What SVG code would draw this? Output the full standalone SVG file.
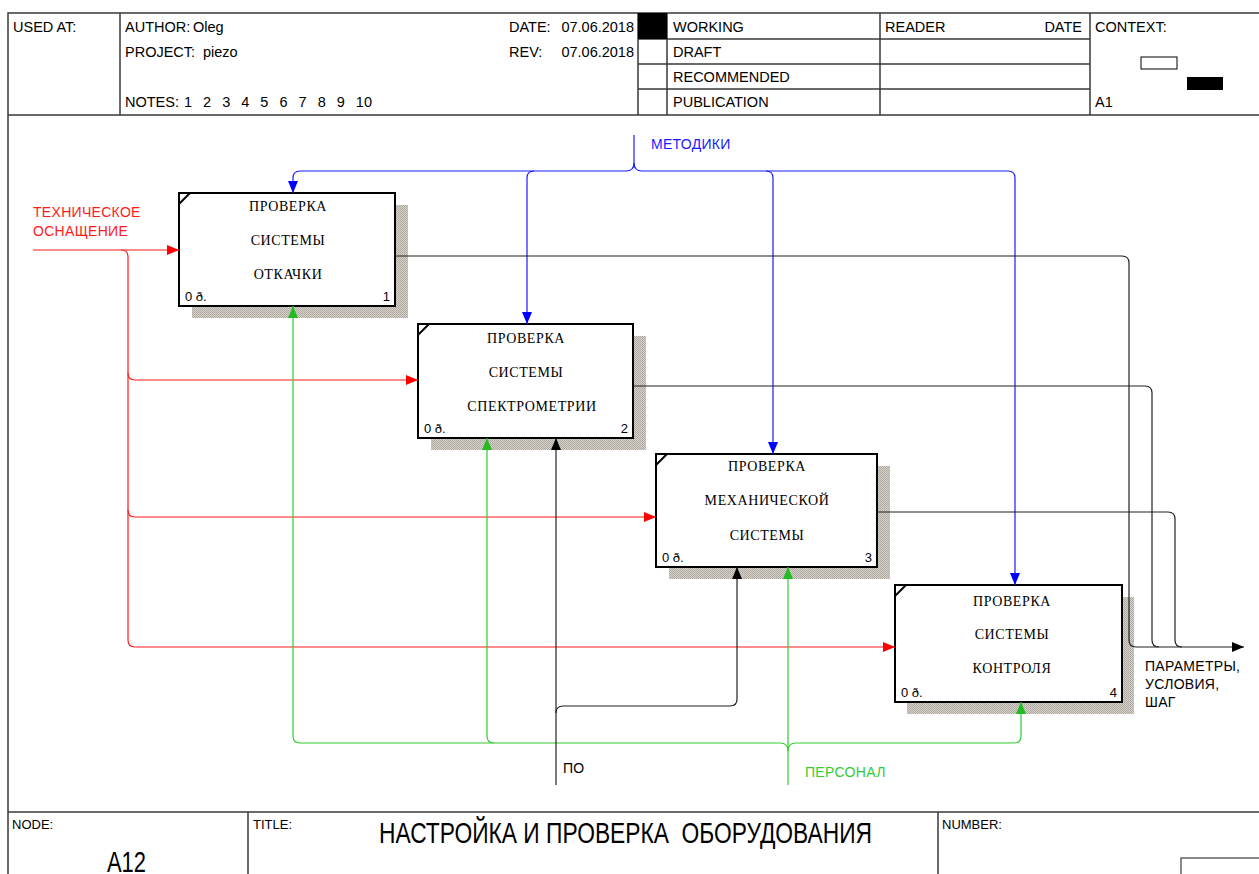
<svg xmlns="http://www.w3.org/2000/svg" width="1259" height="874" viewBox="0 0 1259 874">
<style>
.fr{stroke:#3a3a3a;stroke-width:1.5;fill:none}
.ht{font-family:"Liberation Sans",Arial,sans-serif;font-size:14.5px;fill:#000}
.ft{font-family:"Liberation Sans",Arial,sans-serif;font-size:13px;fill:#000}
.bx{fill:#fff;stroke:#000;stroke-width:2}
.sh{fill:url(#hatch)}
.bt{font-family:"Liberation Serif","Times New Roman",serif;font-size:14px;letter-spacing:0.6px;fill:#000;text-anchor:middle}
.bn{font-family:"Liberation Sans",Arial,sans-serif;font-size:13px;fill:#000}
.red{stroke:#ff1a1a;stroke-width:1.2;fill:none}
.blue{stroke:#1a1aff;stroke-width:1.2;fill:none}
.green{stroke:#33cc33;stroke-width:1.2;fill:none}
.blk{stroke:#222;stroke-width:1.2;fill:none}
.lbl{font-family:"Liberation Sans",Arial,sans-serif;font-size:14px;letter-spacing:0.3px}
</style>
<defs>
<pattern id="hatch" width="2" height="2" patternUnits="userSpaceOnUse">
<rect width="2" height="2" fill="#d6d2ca"/>
<rect width="1" height="1" fill="#aaa69e"/>
<rect x="1" y="1" width="1" height="1" fill="#b4b0a8"/>
</pattern>
<marker id="aR" markerUnits="userSpaceOnUse" markerWidth="13" markerHeight="10" refX="12" refY="5" orient="auto"><path d="M0,0 L12,5 L0,10 z" fill="#ff0000"/></marker>
<marker id="aB" markerUnits="userSpaceOnUse" markerWidth="13" markerHeight="10" refX="12" refY="5" orient="auto"><path d="M0,0 L12,5 L0,10 z" fill="#0000ff"/></marker>
<marker id="aG" markerUnits="userSpaceOnUse" markerWidth="13" markerHeight="10" refX="12" refY="5" orient="auto"><path d="M0,0 L12,5 L0,10 z" fill="#22bb22"/></marker>
<marker id="aK" markerUnits="userSpaceOnUse" markerWidth="13" markerHeight="10" refX="12" refY="5" orient="auto"><path d="M0,0 L12,5 L0,10 z" fill="#000"/></marker>
</defs>
<rect width="1259" height="874" fill="#fff"/>

<g id="frame">
<path class="fr" d="M8,874 V13 H1259 M8,115 H1259 M8,812 H1259"/>
<path class="fr" d="M120,13 V115 M638,13 V115 M667,13 V115 M880,13 V115 M1090,13 V115"/>
<path class="fr" d="M638,39 H1090 M638,64 H1090 M638,89 H1090"/>
<rect x="638" y="13" width="29" height="26" fill="#000"/>
<rect x="1141" y="57" width="36" height="12" fill="#fff" stroke="#000" stroke-width="1"/>
<rect x="1187" y="77" width="36" height="13" fill="#000"/>
<text class="ht" x="13" y="32">USED AT:</text>
<text class="ht" x="125" y="32">AUTHOR:</text>
<text class="ht" x="193" y="32">Oleg</text>
<text class="ht" x="125" y="57">PROJECT:</text>
<text class="ht" x="203" y="57">piezo</text>
<text class="ht" x="125" y="107">NOTES:</text>
<text class="ht" x="184" y="107" word-spacing="7">1 2 3 4 5 6 7 8 9 10</text>
<text class="ht" x="509" y="32">DATE:</text>
<text class="ht" x="634" y="32" text-anchor="end">07.06.2018</text>
<text class="ht" x="509" y="57">REV:</text>
<text class="ht" x="634" y="57" text-anchor="end">07.06.2018</text>
<text class="ht" x="673" y="32">WORKING</text>
<text class="ht" x="673" y="57">DRAFT</text>
<text class="ht" x="673" y="82">RECOMMENDED</text>
<text class="ht" x="673" y="107">PUBLICATION</text>
<text class="ht" x="885" y="32">READER</text>
<text class="ht" x="1082" y="32" text-anchor="end">DATE</text>
<text class="ht" x="1095" y="32">CONTEXT:</text>
<text class="ht" x="1095" y="107">A1</text>
<path class="fr" d="M248,812 V874 M938,812 V874"/>
<rect x="1181" y="858" width="90" height="30" fill="none" stroke="#3a3a3a" stroke-width="1.2"/>
<text class="ft" x="12" y="829">NODE:</text>
<text class="ft" x="253" y="829">TITLE:</text>
<text class="ft" x="942" y="829">NUMBER:</text>
<text transform="translate(107,872) scale(1,1.2)" x="0" y="0" font-family="Liberation Sans, Arial, sans-serif" font-size="24" textLength="39" lengthAdjust="spacingAndGlyphs">A12</text>
<text transform="translate(379,843) scale(1,1.2)" x="0" y="0" font-family="Liberation Sans, Arial, sans-serif" font-size="24" textLength="493" lengthAdjust="spacingAndGlyphs" xml:space="preserve">НАСТРОЙКА И ПРОВЕРКА  ОБОРУДОВАНИЯ</text>
</g>

<g id="box1">
<rect class="sh" x="192" y="205" width="216" height="113"/>
<rect class="bx" x="179" y="193" width="216" height="113"/>
<path d="M179,204 L190,193" stroke="#000" stroke-width="2"/>
<text class="bt" x="288" y="211">ПРОВЕРКА</text>
<text class="bt" x="288" y="245">СИСТЕМЫ</text>
<text class="bt" x="288" y="279">ОТКАЧКИ</text>
<text class="bn" x="185" y="301">0 ð.</text>
<text class="bn" x="390" y="301" text-anchor="end">1</text>
</g>

<g id="box2">
<rect class="sh" x="431" y="336" width="215" height="114"/>
<rect class="bx" x="418" y="324" width="215" height="114"/>
<path d="M418,335 L429,324" stroke="#000" stroke-width="2"/>
<text class="bt" x="526" y="343">ПРОВЕРКА</text>
<text class="bt" x="526" y="377">СИСТЕМЫ</text>
<text class="bt" x="532" y="411">СПЕКТРОМЕТРИИ</text>
<text class="bn" x="424" y="433">0 ð.</text>
<text class="bn" x="628" y="433" text-anchor="end">2</text>
</g>

<g id="box3">
<rect class="sh" x="669" y="466" width="221" height="113"/>
<rect class="bx" x="656" y="454" width="221" height="113"/>
<path d="M656,465 L667,454" stroke="#000" stroke-width="2"/>
<text class="bt" x="767" y="471">ПРОВЕРКА</text>
<text class="bt" x="767" y="505">МЕХАНИЧЕСКОЙ</text>
<text class="bt" x="767" y="540">СИСТЕМЫ</text>
<text class="bn" x="662" y="562">0 ð.</text>
<text class="bn" x="872" y="562" text-anchor="end">3</text>
</g>

<g id="box4">
<rect class="sh" x="907" y="597" width="227" height="117"/>
<rect class="bx" x="895" y="585" width="227" height="117"/>
<path d="M895,596 L906,585" stroke="#000" stroke-width="2"/>
<text class="bt" x="1012" y="606">ПРОВЕРКА</text>
<text class="bt" x="1012" y="639">СИСТЕМЫ</text>
<text class="bt" x="1012" y="673">КОНТРОЛЯ</text>
<text class="bn" x="901" y="697">0 ð.</text>
<text class="bn" x="1117" y="697" text-anchor="end">4</text>
</g>

<g id="connectors">
<path class="red" d="M33,250 H179" marker-end="url(#aR)"/>
<path class="red" d="M121,250 Q128,250 128,257 V640 Q128,647 135,647 H895" marker-end="url(#aR)"/>
<path class="red" d="M128,373 Q128,380 135,380 H418" marker-end="url(#aR)"/>
<path class="red" d="M128,510 Q128,517 135,517 H656" marker-end="url(#aR)"/>

<path class="blue" d="M634,135 V163 Q634,171 626,171 H300 Q293,171 293,178 V193" marker-end="url(#aB)"/>
<path class="blue" d="M634,163 Q634,171 642,171 H1008 Q1015,171 1015,178 V585" marker-end="url(#aB)"/>
<path class="blue" d="M534,171 Q527,171 527,178 V324" marker-end="url(#aB)"/>
<path class="blue" d="M766,171 Q773,171 773,178 V454" marker-end="url(#aB)"/>

<path class="green" d="M788,785 V567" marker-end="url(#aG)"/>
<path class="green" d="M788,751 Q788,743 780,743 H300 Q293,743 293,736 V306" marker-end="url(#aG)"/>
<path class="green" d="M788,751 Q788,743 796,743 H1014 Q1021,743 1021,736 V702" marker-end="url(#aG)"/>
<path class="green" d="M494,743 Q487,743 487,736 V438" marker-end="url(#aG)"/>

<path class="blk" d="M556,785 V438" marker-end="url(#aK)"/>
<path class="blk" d="M556,713 Q556,706 563,706 H730 Q737,706 737,699 V567" marker-end="url(#aK)"/>

<path class="blk" d="M395,256 H1122 Q1129,256 1129,263 V640 Q1129,647 1136,647 H1244" marker-end="url(#aK)"/>
<path class="blk" d="M633,386 H1145 Q1152,386 1152,393 V640 Q1152,647 1159,647"/>
<path class="blk" d="M877,512 H1168 Q1175,512 1175,519 V640 Q1175,647 1182,647"/>

<text class="lbl" x="33" y="217" fill="#ff1a1a">ТЕХНИЧЕСКОЕ</text>
<text class="lbl" x="33" y="236" fill="#ff1a1a">ОСНАЩЕНИЕ</text>
<text class="lbl" x="651" y="149" fill="#1a1aff">МЕТОДИКИ</text>
<text class="lbl" x="805" y="777" fill="#33cc33">ПЕРСОНАЛ</text>
<text class="lbl" x="563" y="773" fill="#000">ПО</text>
<text class="lbl" x="1145" y="671" fill="#000">ПАРАМЕТРЫ,</text>
<text class="lbl" x="1145" y="689" fill="#000">УСЛОВИЯ,</text>
<text class="lbl" x="1145" y="707" fill="#000">ШАГ</text>
</g>
</svg>
